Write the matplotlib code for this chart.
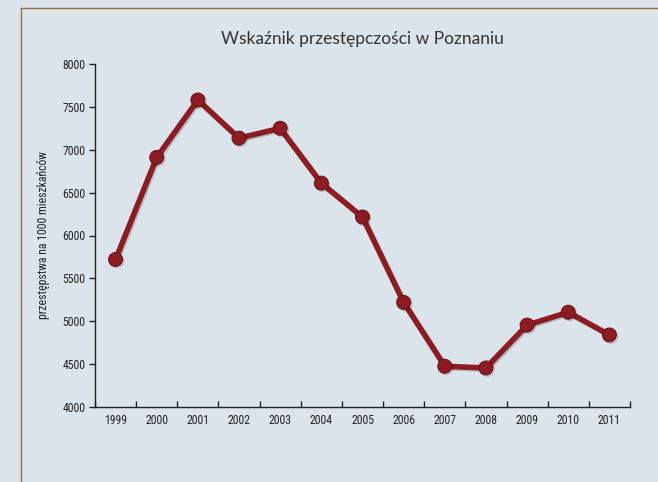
import numpy as np
import matplotlib
matplotlib.use('Agg')
import matplotlib.pyplot as plt
import matplotlib.patheffects as pe
from matplotlib.lines import Line2D
from matplotlib import font_manager

# Data
years = ['1999', '2000', '2001', '2002', '2003', '2004', '2005',
         '2006', '2007', '2008', '2009', '2010', '2011']
crime_rate = [5720, 6910, 7580, 7135, 7250, 6610, 6215,
              5220, 4475, 4455, 4955, 5105, 4840]
y_ticks = [4000, 4500, 5000, 5500, 6000, 6500, 7000, 7500, 8000]


def pick_font(names):
    for n in names:
        try:
            font_manager.findfont(n, fallback_to_default=False)
            return n
        except Exception:
            pass
    return 'DejaVu Sans'


bg = '#dbe4eb'
line_color = '#8c1c22'
tick_font = pick_font(['Liberation Sans Narrow', 'DejaVu Sans Condensed', 'Roboto Condensed', 'Open Sans'])
title_font = pick_font(['Lato', 'Open Sans', 'DejaVu Sans'])

fig = plt.figure(figsize=(6.58, 4.82), dpi=100)
fig.patch.set_facecolor(bg)

# frame lines (top and left)
fig.add_artist(Line2D([21 / 658, 1], [1 - 8 / 482, 1 - 8 / 482], color='#9c6b3c', lw=1))
fig.add_artist(Line2D([21 / 658, 21 / 658], [0, 1 - 8 / 482], color='#9c6b3c', lw=1))

ax = fig.add_axes([95 / 658, 1 - 407 / 482, 535 / 658, 343 / 482])
ax.set_facecolor(bg)

x = np.arange(len(years))
shadow = [pe.SimpleLineShadow(offset=(1, -1), alpha=0.18, shadow_color='black'), pe.Normal()]
ax.plot(x, crime_rate, color=line_color, lw=4, marker='o', markersize=10,
        markerfacecolor=line_color, markeredgecolor='#6e1418', markeredgewidth=0.8,
        path_effects=shadow, zorder=3)

ax.set_xlim(-0.5, len(years) - 0.5)
ax.set_ylim(4000, 8000)
ax.set_yticks(y_ticks)
ax.set_yticklabels([str(v) for v in y_ticks], fontfamily=tick_font, fontsize=8.5, color='#222222')

ax.set_xticks(x)
ax.set_xticklabels(years, fontfamily=tick_font, fontsize=8.5, color='#222222')
ax.set_xticks(np.arange(len(years) + 1) - 0.5, minor=True)
ax.tick_params(axis='x', which='major', length=0, pad=5)
ax.tick_params(axis='x', which='minor', direction='in', length=4, width=1, color='#222222')
ax.tick_params(axis='y', direction='out', length=4, width=1, color='#222222', pad=3)

for s in ['top', 'right']:
    ax.spines[s].set_visible(False)
for s in ['left', 'bottom']:
    ax.spines[s].set_color('#222222')
    ax.spines[s].set_linewidth(1)

ax.set_ylabel('przestępstwa na 1000 mieszkańców', fontfamily=tick_font, fontsize=8.5,
              color='#222222', labelpad=9)
fig.text(362 / 658, 1 - 39 / 482, 'Wskaźnik przestępczości w Poznaniu', ha='center', va='center',
         fontsize=12.5, color='#333333', fontfamily=title_font)

fig.savefig('out.png', dpi=100, facecolor=bg)
